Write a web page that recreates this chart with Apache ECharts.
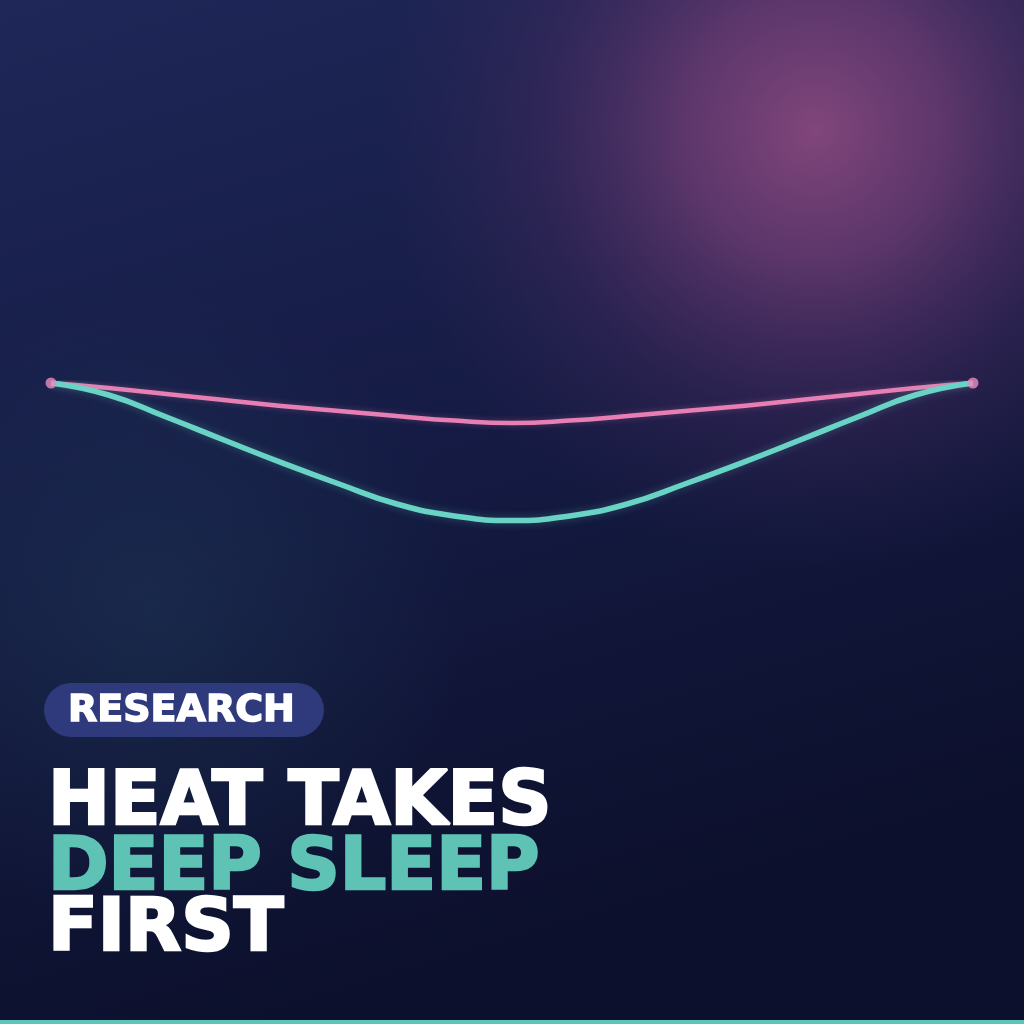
<!DOCTYPE html>
<html>
<head>
<meta charset="utf-8">
<script src="https://cdn.jsdelivr.net/npm/echarts@6/dist/echarts.min.js"></script>
<style>
  html, body { margin: 0; padding: 0; background: #121638; }
  #chart { width: 1024px; height: 1024px; }
</style>
</head>
<body>
<div id="chart"></div>
<script>
// sleep across the night, % of cool-room baseline
var nightSteps = [0, 1, 2, 3, 4, 5, 6, 7, 8, 9, 10, 11, 12, 13, 14, 15, 16];
var lightSleep = [100, 98.75, 97.25, 95.75, 94.25, 93, 91.75, 90.6, 90,
                  90.6, 91.75, 93, 94.25, 95.75, 97.25, 98.75, 100];
var deepSleep = [100, 97, 91.5, 85.75, 80.1, 74.75, 69.75, 66.75, 65.6,
                 66.75, 69.75, 74.75, 80.1, 85.75, 91.5, 97, 100];
var headline = ['HEAT TAKES', 'DEEP SLEEP', 'FIRST'];
var tag = 'RESEARCH';

var pink = '#e77fb4';
var teal = '#69d3c5';

function pairs(xs, ys) {
    var out = [];
    for (var i = 0; i < xs.length; i++) {
        out.push([xs[i], ys[i]]);
    }
    return out;
}

var chart = echarts.init(document.getElementById('chart'));

var endDots = [
    [nightSteps[0], lightSleep[0]],
    [nightSteps[nightSteps.length - 1], lightSleep[lightSleep.length - 1]]
];

function headText(txt, y, color, size) {
    return {
        type: 'text', z: 11,
        x: 48, y: y,
        style: {
            text: txt, fill: color,
            stroke: color, lineWidth: 2.5,
            font: 'bold ' + size + 'px "DejaVu Sans"', verticalAlign: 'middle',
            shadowBlur: 6, shadowColor: 'rgba(0,0,0,0.35)'
        }
    };
}

var option = {
    animation: false,
    backgroundColor: {
        type: 'linear', x: 0, y: 0, x2: 0.3, y2: 1,
        colorStops: [
            { offset: 0, color: '#1e2758' },
            { offset: 0.5, color: '#151b44' },
            { offset: 1, color: '#0c102c' }
        ]
    },
    grid: { left: 51, right: 51, top: 383, bottom: 481 },
    xAxis: { type: 'value', min: 0, max: 16, show: false },
    yAxis: { type: 'value', min: 60, max: 100, show: false },
    graphic: [
        // pink glow top right
        {
            type: 'ellipse', z: 0, silent: true,
            shape: { cx: 815, cy: 130, rx: 440, ry: 470 },
            style: {
                fill: {
                    type: 'radial', x: 0.5, y: 0.5, r: 0.5,
                    colorStops: [
                        { offset: 0, color: 'rgba(135,72,125,0.95)' },
                        { offset: 0.3, color: 'rgba(115,62,118,0.75)' },
                        { offset: 0.65, color: 'rgba(78,46,100,0.35)' },
                        { offset: 1, color: 'rgba(60,40,90,0)' }
                    ]
                }
            }
        },
        // faint teal glow lower left
        {
            type: 'circle', z: 0, silent: true,
            shape: { cx: 150, cy: 610, r: 320 },
            style: {
                fill: {
                    type: 'radial', x: 0.5, y: 0.5, r: 0.5,
                    colorStops: [
                        { offset: 0, color: 'rgba(35,70,95,0.35)' },
                        { offset: 1, color: 'rgba(35,70,95,0)' }
                    ]
                }
            }
        },
        // badge
        {
            type: 'rect', z: 10,
            shape: { x: 44, y: 683, width: 280, height: 54, r: 27 },
            style: { fill: '#2e3a7b' }
        },
        {
            type: 'text', z: 11,
            x: 68, y: 711,
            style: {
                text: tag,
                fill: '#ffffff', stroke: '#ffffff', lineWidth: 1.5,
                font: 'bold 38px "DejaVu Sans"',
                verticalAlign: 'middle'
            }
        },
        headText(headline[0], 805, '#ffffff', 74),
        headText(headline[1], 870, '#5ec3b5', 73),
        headText(headline[2], 931, '#ffffff', 73),
        // bottom strip
        {
            type: 'rect', z: 10,
            shape: { x: 0, y: 1020, width: 1024, height: 4 },
            style: { fill: '#5fc4b8' }
        }
    ],
    series: [
        {
            name: 'Light sleep',
            type: 'line',
            smooth: true,
            showSymbol: false,
            z: 3,
            data: pairs(nightSteps, lightSleep),
            lineStyle: { color: pink, width: 4.5, shadowBlur: 6, shadowColor: 'rgba(231,127,180,0.3)' }
        },
        {
            name: 'Deep sleep',
            type: 'line',
            smooth: true,
            showSymbol: false,
            z: 4,
            data: pairs(nightSteps, deepSleep),
            lineStyle: { color: teal, width: 5.5, shadowBlur: 8, shadowColor: 'rgba(105,211,197,0.3)' }
        },
        {
            name: 'ends',
            type: 'scatter',
            z: 5,
            symbolSize: 11,
            itemStyle: { color: '#ea8cbe' },
            data: endDots
        }
    ]
};

chart.setOption(option);
</script>
</body>
</html>
